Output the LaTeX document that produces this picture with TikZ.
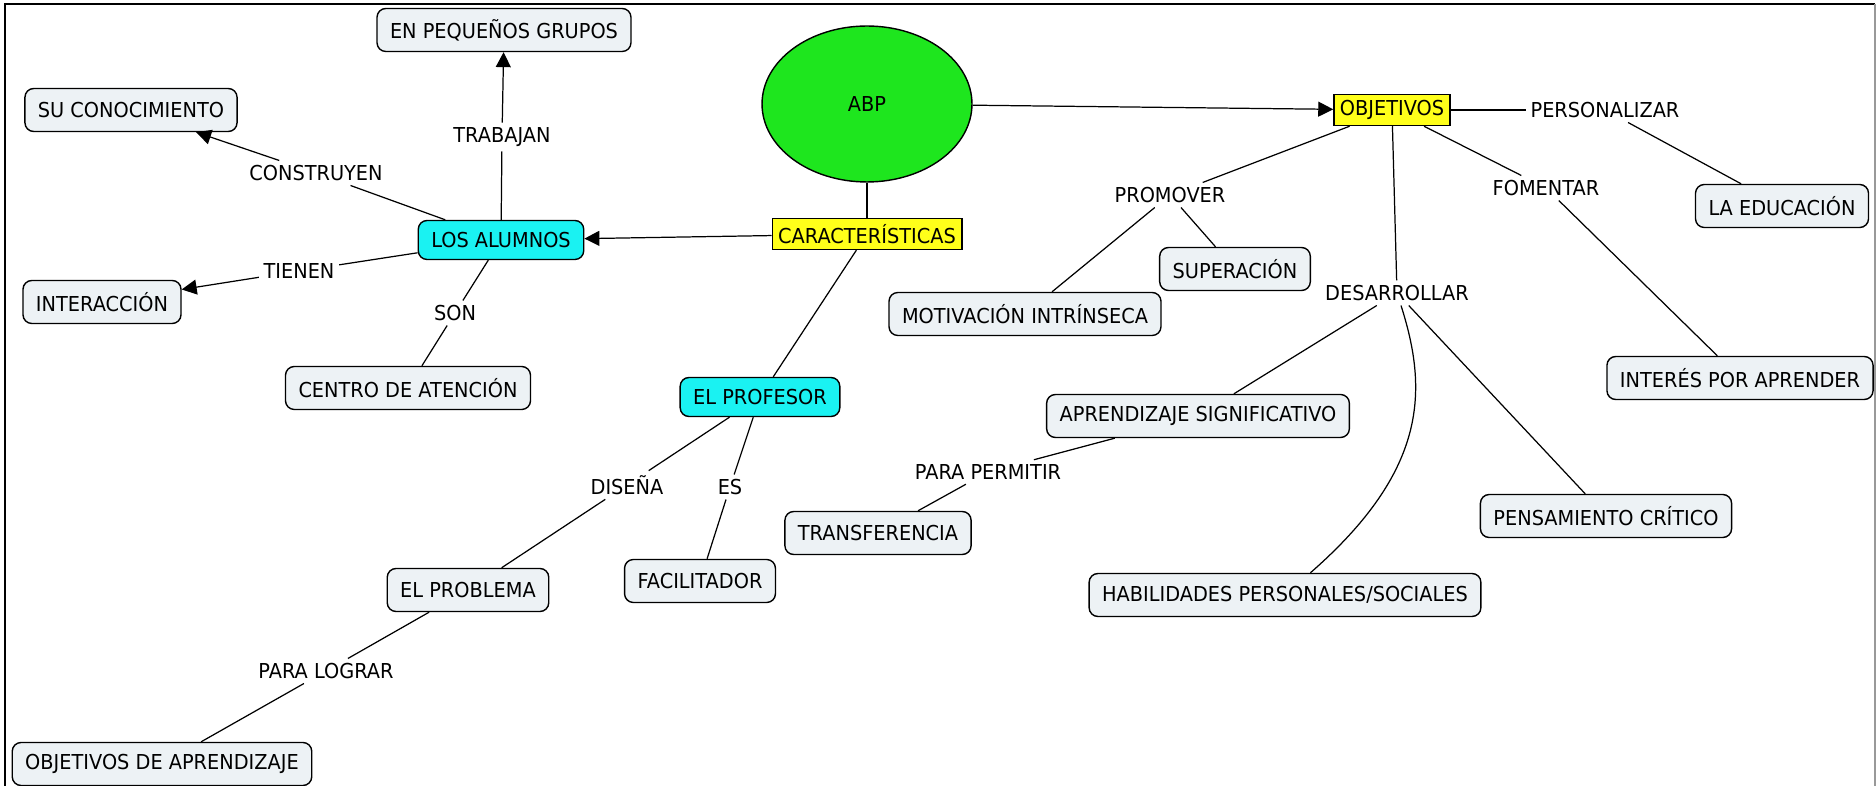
\documentclass[tikz,border=0pt]{standalone}
\usepackage{fontspec}
\setmainfont{DejaVu Sans}[FakeStretch=0.94]
\usetikzlibrary{arrows.meta,shapes.geometric}
\definecolor{conceptfill}{HTML}{EDF2F5}
\definecolor{keycyan}{HTML}{1AF2F2}
\definecolor{keyyellow}{HTML}{FFFF1A}
\definecolor{abpgreen}{HTML}{1EE61E}
\definecolor{framegray}{HTML}{999999}

\begin{document}
\begin{tikzpicture}[x=0.02cm,y=-0.02cm,
  every node/.append style={font=\fontsize{11.7pt}{14pt}\selectfont},
  concept/.style={draw,line width=0.8pt,fill=conceptfill,rounded corners=5pt,minimum height=0.86cm,inner xsep=0.26cm},
  actor/.style={draw,line width=0.8pt,fill=keycyan,rounded corners=5pt,minimum height=0.78cm,inner xsep=0.26cm},
  key/.style={draw,line width=0.8pt,fill=keyyellow,minimum height=0.6cm,inner xsep=0.12cm},
  link/.style={inner sep=2.5pt},
  conn/.style={line width=0.7pt},
  arr/.style={conn,-{Triangle[length=8.5pt,width=8.5pt]}}
]
  \useasboundingbox (0,0) rectangle (1876,786);
  \fill[white] (0,0) rectangle (1876,786);
  % frame
  \draw[line width=1.6pt] (5,790) -- (5,4) -- (1875,4);
  \draw[framegray,line width=0.8pt] (1875,4) -- (1875,790);

  % centre
  \node[ellipse,draw,line width=0.8pt,fill=abpgreen,minimum width=4.2cm,minimum height=3.12cm] (abp) at (867,104) {ABP};
  \node[key] (caract) at (867,234) {CARACTERÍSTICAS};
  \node[key] (objetivos) at (1392,110) {OBJETIVOS};

  % los alumnos
  \node[actor] (alumnos) at (501,240) {LOS ALUMNOS};
  \node[concept] (grupos) at (504,30) {EN PEQUEÑOS GRUPOS};
  \node[concept] (conocimiento) at (131,110) {SU CONOCIMIENTO};
  \node[concept] (interaccion) at (102,302) {INTERACCIÓN};
  \node[concept] (centro) at (408,388) {CENTRO DE ATENCIÓN};
  \node[link] (trabajan) at (502,137) {TRABAJAN};
  \node[link] (construyen) at (316,173) {CONSTRUYEN};
  \node[link] (tienen) at (299,271) {TIENEN};
  \node[link] (son) at (455,313) {SON};

  % el profesor
  \node[actor] (profesor) at (760,397) {EL PROFESOR};
  \node[concept] (problema) at (468,590) {EL PROBLEMA};
  \node[concept] (facilitador) at (700,581) {FACILITADOR};
  \node[concept] (objaprend) at (162,764) {OBJETIVOS DE APRENDIZAJE};
  \node[link] (disena) at (627,485) {DISEÑA};
  \node[link] (es) at (730,487) {ES};
  \node[link] (lograr) at (326,671) {PARA LOGRAR};

  % objetivos
  \node[link] (promover) at (1170,195) {PROMOVER};
  \node[link] (desarrollar) at (1397,293) {DESARROLLAR};
  \node[link] (fomentar) at (1546,188) {FOMENTAR};
  \node[link] (personalizar) at (1605,110) {PERSONALIZAR};
  \node[link] (permitir) at (988,472) {PARA PERMITIR};
  \node[concept] (superacion) at (1235,269) {SUPERACIÓN};
  \node[concept] (motivacion) at (1025,314) {MOTIVACIÓN INTRÍNSECA};
  \node[concept] (aprsig) at (1198,416) {APRENDIZAJE SIGNIFICATIVO};
  \node[concept] (transferencia) at (878,533) {TRANSFERENCIA};
  \node[concept] (habilidades) at (1285,595) {HABILIDADES PERSONALES/SOCIALES};
  \node[concept] (pensamiento) at (1606,516) {PENSAMIENTO CRÍTICO};
  \node[concept] (interes) at (1740,378) {INTERÉS POR APRENDER};
  \node[concept] (educacion) at (1782,206) {LA EDUCACIÓN};

  % connectors
  \draw[conn] (abp) -- (caract);
  \draw[arr] (abp) -- (objetivos);
  \draw[arr] (caract) -- (alumnos);
  \draw[conn] (caract) -- (profesor);

  \draw[conn] (alumnos) -- (trabajan);
  \draw[arr] (trabajan) -- (grupos);
  \draw[conn] (alumnos) -- (construyen);
  \draw[arr] (construyen) -- (conocimiento);
  \draw[conn] (alumnos) -- (tienen);
  \draw[arr] (tienen) -- (interaccion);
  \draw[conn] (alumnos) -- (son);
  \draw[conn] (son) -- (centro);

  \draw[conn] (profesor) -- (disena);
  \draw[conn] (disena) -- (problema);
  \draw[conn] (profesor) -- (es);
  \draw[conn] (es) -- (facilitador);
  \draw[conn] (problema) -- (lograr);
  \draw[conn] (lograr) -- (objaprend);

  \draw[conn] (objetivos) -- (promover);
  \draw[conn] (promover) -- (motivacion);
  \draw[conn] (promover) -- (superacion);
  \draw[conn] (objetivos) -- (desarrollar);
  \draw[conn] (desarrollar) -- (aprsig);
  \draw[conn] (desarrollar) .. controls (1428,390) and (1428,470) .. (habilidades);
  \draw[conn] (desarrollar) -- (pensamiento);
  \draw[conn] (objetivos) -- (fomentar);
  \draw[conn] (fomentar) -- (interes);
  \draw[conn] (objetivos) -- (personalizar);
  \draw[conn] (personalizar) -- (educacion);
  \draw[conn] (aprsig) -- (permitir);
  \draw[conn] (permitir) -- (transferencia);
\end{tikzpicture}
\end{document}
